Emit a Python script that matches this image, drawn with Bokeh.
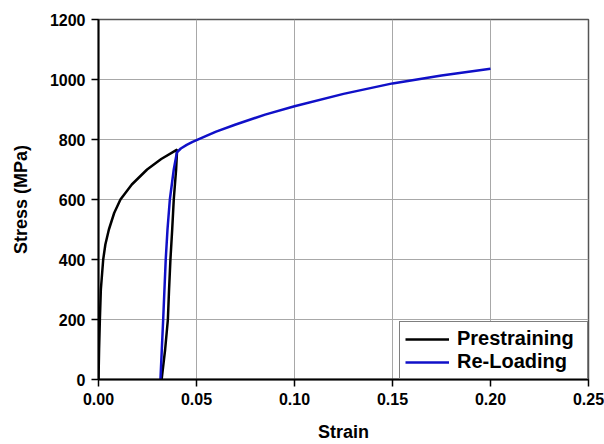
from bokeh.plotting import figure
from bokeh.models import Range1d, Legend, LegendItem, FixedTicker
from bokeh.embed import file_html
from bokeh.resources import INLINE

# Prestraining curve (loading then unloading)
pre_strain = [0.0, 0.0003, 0.0007, 0.0012, 0.0024, 0.0035, 0.0053, 0.0080, 0.0112, 0.0170,
              0.0248, 0.0320, 0.0401, 0.0396, 0.0384, 0.0376, 0.0367, 0.0360, 0.0354, 0.0340, 0.0322]
pre_stress = [0, 100, 200, 300, 400, 450, 500, 555, 600, 650,
              700, 735, 766, 700, 600, 500, 400, 300, 200, 100, 0]

# Re-loading curve
re_strain = [0.0316, 0.0323, 0.0330, 0.0343, 0.0352, 0.0364, 0.0384, 0.0400, 0.0420, 0.0450, 0.0480,
             0.0550, 0.0600, 0.0700, 0.0850, 0.1000, 0.1250, 0.1500, 0.1750, 0.2000]
re_stress = [0, 100, 200, 400, 500, 600, 700, 757, 770, 782, 792,
             812, 826, 850, 883, 911, 952, 987, 1013, 1036]

x_ticks = [0.0, 0.05, 0.10, 0.15, 0.20, 0.25]
y_ticks = [0, 200, 400, 600, 800, 1000, 1200]

p = figure(width=604, height=444, output_backend="svg", toolbar_location=None,
           x_range=Range1d(0, 0.25), y_range=Range1d(0, 1200),
           min_border_left=98, min_border_right=16, min_border_top=19, min_border_bottom=63)

FONT = "Liberation Sans"
p.outline_line_color = "#555555"
p.outline_line_width = 1.5

for ax in (p.xaxis[0], p.yaxis[0]):
    ax.axis_line_width = 2
    ax.axis_line_color = "black"
    ax.major_tick_line_width = 1.5
    ax.major_tick_out = 7
    ax.major_tick_in = 0
    ax.minor_tick_line_color = None
    ax.major_label_text_font = FONT
    ax.major_label_text_font_style = "bold"
    ax.major_label_text_font_size = "16px"
    ax.major_label_text_color = "black"
    ax.axis_label_text_font = FONT
    ax.axis_label_text_font_style = "bold"
    ax.axis_label_text_font_size = "18px"
    ax.axis_label_text_color = "black"

p.xaxis.ticker = FixedTicker(ticks=x_ticks)
p.yaxis.ticker = FixedTicker(ticks=y_ticks)
p.xaxis.major_label_overrides = {t: f"{t:.2f}" for t in x_ticks}
p.xaxis.axis_label = "Strain"
p.yaxis.axis_label = "Stress (MPa)"
p.xaxis.axis_label_standoff = 14
p.yaxis.axis_label_standoff = 16
p.xaxis.major_label_standoff = 6
p.yaxis.major_label_standoff = 6

p.xgrid.ticker = FixedTicker(ticks=x_ticks)
p.ygrid.ticker = FixedTicker(ticks=y_ticks)
p.grid.grid_line_color = "#a8a8a8"
p.grid.grid_line_width = 1

r1 = p.line(pre_strain, pre_stress, line_color="black", line_width=2.5)
r2 = p.line(re_strain, re_stress, line_color="#1010c8", line_width=2.5)

legend = Legend(items=[LegendItem(label="Prestraining", renderers=[r1]),
                       LegendItem(label="Re-Loading", renderers=[r2])],
                location="bottom_right")
legend.label_text_font = FONT
legend.label_text_font_style = "bold"
legend.label_text_font_size = "20px"
legend.label_text_color = "black"
legend.border_line_color = "black"
legend.border_line_width = 1.5
legend.margin = 0
legend.padding = 5
legend.spacing = 0
legend.glyph_width = 44
legend.label_standoff = 8
legend.label_width = 125
legend.background_fill_alpha = 1
p.add_layout(legend)

open("out.html", "w").write(file_html(p, INLINE))
